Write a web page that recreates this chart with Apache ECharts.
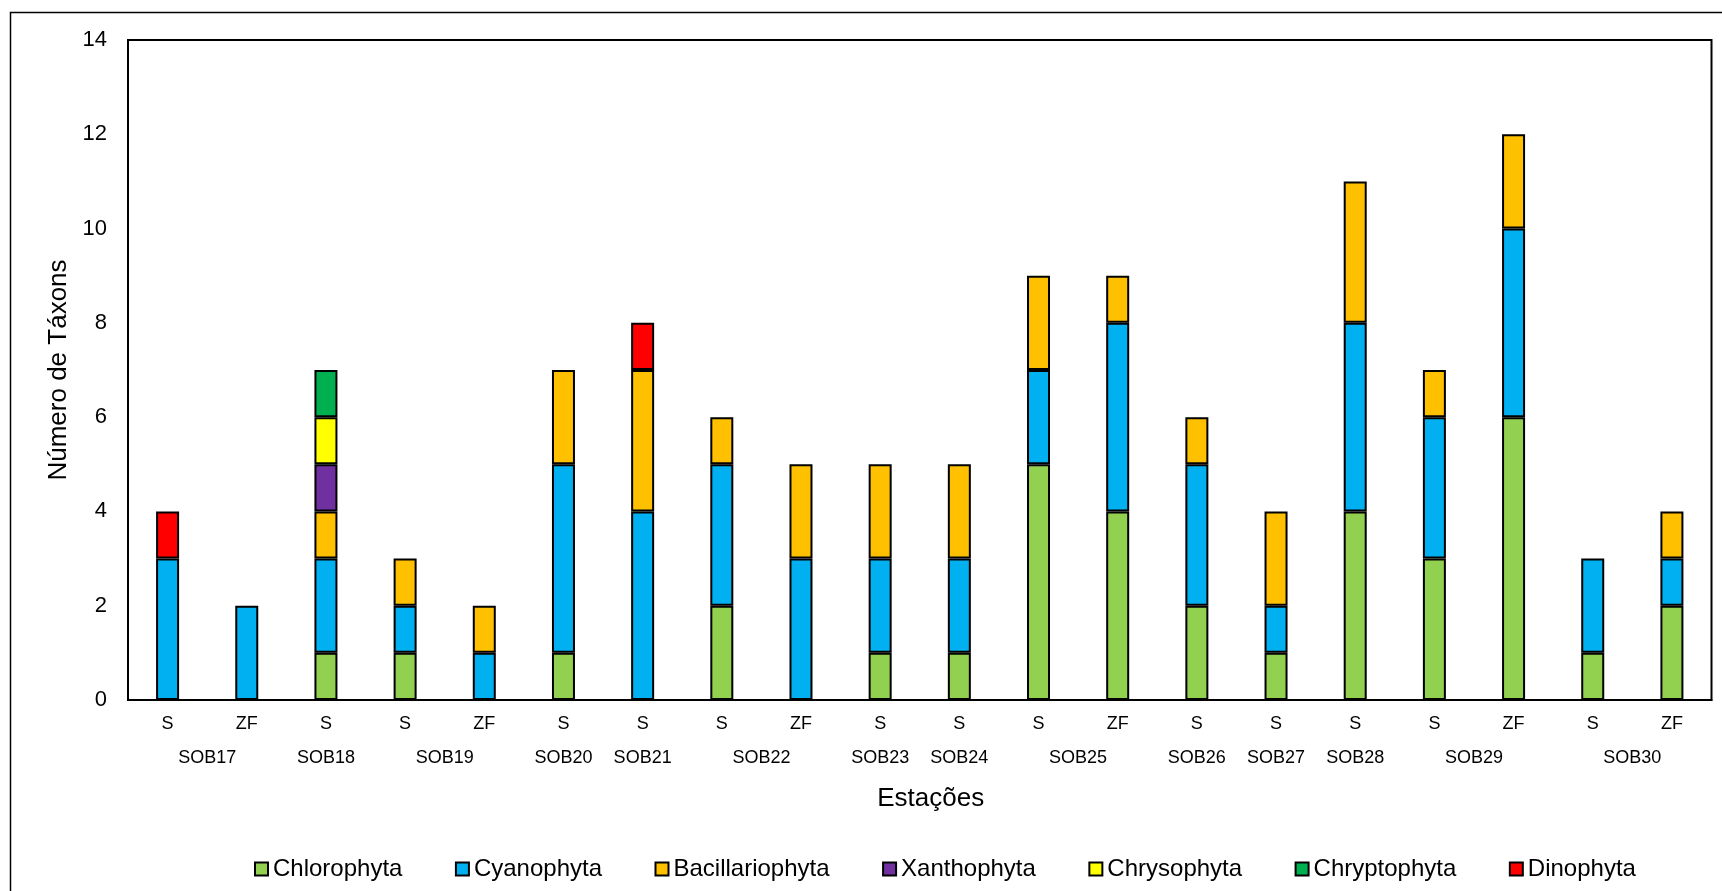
<!DOCTYPE html>
<html>
<head>
<meta charset="utf-8">
<script src="https://cdn.jsdelivr.net/npm/echarts@6/dist/echarts.min.js"></script>
<style>
html,body{margin:0;padding:0;background:#fff;}
#chart{width:1722px;height:891px;}
</style>
</head>
<body>
<div id="chart"></div>
<script>
// Sample type per bar (category axis)
const sampleLabels = ['S','ZF','S','S','ZF','S','S','S','ZF','S','S','S','ZF','S','S','S','S','ZF','S','ZF'];
// Station groups and how many bars each spans
const stations = ['SOB17','SOB18','SOB19','SOB20','SOB21','SOB22','SOB23','SOB24','SOB25','SOB26','SOB27','SOB28','SOB29','SOB30'];
const stationSpans = [2,1,2,1,1,2,1,1,2,1,1,1,2,2];

const seriesNames = ['Chlorophyta','Cyanophyta','Bacillariophyta','Xanthophyta','Chrysophyta','Chryptophyta','Dinophyta'];
const chlorophyta     = [0,0,1,1,0,1,0,2,0,1,1,5,4,2,1,4,3,6,1,2];
const cyanophyta      = [3,2,2,1,1,4,4,3,3,2,2,2,4,3,1,4,3,4,2,1];
const bacillariophyta = [0,0,1,1,1,2,3,1,2,2,2,2,1,1,2,3,1,2,0,1];
const xanthophyta     = [0,0,1,0,0,0,0,0,0,0,0,0,0,0,0,0,0,0,0,0];
const chrysophyta     = [0,0,1,0,0,0,0,0,0,0,0,0,0,0,0,0,0,0,0,0];
const chryptophyta    = [0,0,1,0,0,0,0,0,0,0,0,0,0,0,0,0,0,0,0,0];
const dinophyta       = [1,0,0,0,0,0,1,0,0,0,0,0,0,0,0,0,0,0,0,0];
const yTicks = [0,2,4,6,8,10,12,14];

const colors = ['#92D050','#00B0F0','#FFC000','#7030A0','#FFFF00','#00B050','#FF0000'];
const allData = [chlorophyta,cyanophyta,bacillariophyta,xanthophyta,chrysophyta,chryptophyta,dinophyta];

// Build the half-step label axis for station names
const groupAxis = new Array(sampleLabels.length*2+1).fill('');
let pos = 0;
stations.forEach((s,i)=>{
  const center = 2*pos + stationSpans[i];
  groupAxis[center] = s;
  pos += stationSpans[i];
});

const FONT = "'Liberation Sans', Arial, sans-serif";
const chart = echarts.init(document.getElementById('chart'), null, {renderer:'canvas'});
chart.setOption({
  animation:false,
  backgroundColor:'#fff',
  textStyle:{fontFamily:FONT,color:'#000'},
  graphic:[{
    type:'rect', left:8, top:10, silent:true,
    shape:{x:0,y:0,width:1730,height:900},
    style:{fill:'none',stroke:'#000',lineWidth:1.5}
  }],
  grid:{left:128,right:10.5,top:40,bottom:191,show:true,borderColor:'#000',borderWidth:2,containLabel:false},
  legend:{
    data:seriesNames, left:254, top:857, padding:0,
    itemWidth:13, itemHeight:13, itemGap:52.5, icon:'rect',
    textStyle:{fontFamily:FONT,fontSize:24,color:'#000',padding:[0,0,0,0]}
  },
  xAxis:[{
    type:'category', data:sampleLabels, position:'bottom',
    axisLine:{show:true,lineStyle:{color:'#000',width:2}},
    axisTick:{show:false},
    axisLabel:{interval:0,margin:15,fontSize:18,color:'#000',fontFamily:FONT},
    splitLine:{show:false},
    name:'Estações', nameLocation:'middle', nameGap:86,
    nameTextStyle:{fontSize:26,color:'#000',fontFamily:FONT,padding:[0,0,0,22]}
  },{
    type:'category', data:groupAxis, boundaryGap:false, position:'bottom',
    axisLine:{show:false}, axisTick:{show:false}, splitLine:{show:false},
    axisLabel:{interval:0,margin:49,fontSize:18,color:'#000',fontFamily:FONT}
  }],
  yAxis:{
    type:'value', min:0, max:14, interval:2,
    axisLine:{show:true,lineStyle:{color:'#000',width:2}},
    axisTick:{show:false}, splitLine:{show:false},
    axisLabel:{fontSize:22,color:'#000',margin:21,fontFamily:FONT,
      formatter:v=> yTicks.includes(v) ? String(v) : ''},
    name:'Número de Táxons', nameLocation:'middle', nameGap:56,
    nameTextStyle:{fontSize:26,color:'#000',fontFamily:FONT}
  },
  series: seriesNames.map((n,i)=>({
    name:n, type:'bar', stack:'total', xAxisIndex:0,
    barWidth:23,
    itemStyle:{color:colors[i],borderColor:'#000',borderWidth:2},
    data: allData[i].map(v=> v===0 ? null : v)
  }))
});
</script>
</body>
</html>
